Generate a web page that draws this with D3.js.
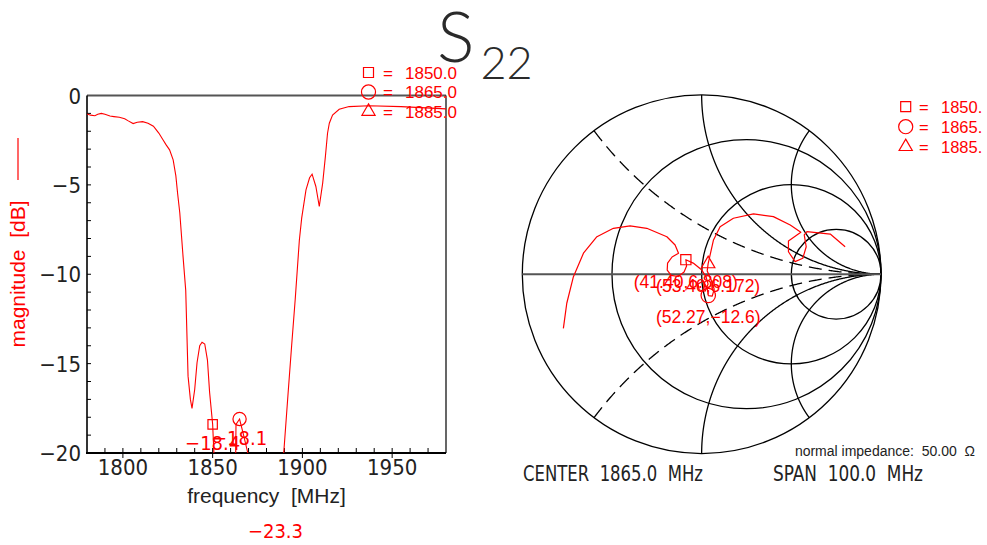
<!DOCTYPE html>
<html>
<head>
<meta charset="utf-8">
<script src="https://cdn.jsdelivr.net/npm/d3@7"></script>
<style>
  body { margin: 0; background: #fff; }
  svg text { white-space: pre; }
</style>
</head>
<body>
<svg id="chart" width="987" height="545"></svg>
<script>
// ---- S22 magnitude sweep ----
const magFreq = [1780, 1782, 1784.4, 1786, 1788, 1790, 1792.8, 1795, 1798, 1801,
  1803, 1805.7, 1808, 1811, 1814, 1817, 1820, 1822.4, 1824, 1826,
  1828, 1829.5, 1830.5, 1831.7, 1833.5, 1835, 1836.3, 1837.6, 1838.5, 1840,
  1841.3, 1842.8, 1844.1, 1845.6, 1847.1, 1848.3, 1850, 1850.7, 1852, 1855,
  1858, 1861, 1862.7, 1863, 1865, 1867, 1869.6, 1872, 1876, 1880,
  1883, 1885, 1887.5, 1889.6, 1892, 1894, 1896, 1898.3, 1899.6, 1902,
  1904, 1905.4, 1907.5, 1909.4, 1911.3, 1912.8, 1914, 1915, 1916.8, 1920.5,
  1926, 1937, 1955, 1980];
const magDb = [-1.03, -1.10, -1.13, -1.05, -1.00, -1.05, -1.15, -1.18, -1.22, -1.30,
  -1.42, -1.57, -1.50, -1.46, -1.55, -1.72, -2.10, -2.49, -2.75, -3.04,
  -3.6, -4.5, -5.5, -6.57, -9.0, -10.9, -15.7, -17.0, -17.5, -16.45,
  -14.95, -14.0, -13.8, -13.9, -14.8, -16.6, -18.4, -20.0, -23, -27,
  -26, -24, -22, -18.4, -18.1, -18.9, -20.0, -22, -27, -30,
  -26, -23.3, -21.5, -20.0, -16.7, -14.0, -11.4, -8.1, -6.86, -5.28,
  -4.6, -4.40, -5.09, -6.21, -4.9, -3.42, -2.11, -1.55, -1.09, -0.77,
  -0.62, -0.57, -0.62, -0.75];

// ---- markers ----
const markerShapes = ["square", "circle", "triangle"];
const markerFreqs = [1850, 1865, 1885];
const markerDb = [-18.4, -18.1, -23.3];
const markerR = [41.40, 52.27, 53.40];   // ohms
const markerX = [6.808, -12.6, 6.172];   // ohms
const legendLeftText = ["1850.0", "1865.0", "1885.0"];
const legendRightText = ["1850.", "1865.", "1885."];

// ---- reflection coefficient trace (re, im), 1815-1915 MHz ----
const gammaRe = [-0.771, -0.752, -0.715, -0.659, -0.584, -0.492, -0.399, -0.306, -0.194, -0.148,
  -0.129, -0.165, -0.190, -0.192, -0.170, -0.131, -0.098, -0.084, -0.088, -0.047,
  0.001, 0.025, 0.036, 0.020, -0.014, -0.020, 0.008, 0.031, 0.037, 0.059,
  0.070, 0.053, 0.031, 0.036, 0.047, 0.066, 0.103, 0.177, 0.289, 0.400,
  0.494, 0.553, 0.484, 0.484, 0.521, 0.564, 0.583, 0.572, 0.587, 0.717,
  0.800];
const gammaIm = [-0.302, -0.162, -0.014, 0.117, 0.209, 0.256, 0.269, 0.256, 0.209, 0.163,
  0.117, 0.096, 0.062, 0.023, -0.007, -0.013, 0.012, 0.046, 0.081, 0.062,
  0.023, -0.016, -0.055, -0.094, -0.088, -0.055, -0.038, -0.077, -0.119, -0.122,
  -0.083, -0.032, 0.018, 0.058, 0.107, 0.191, 0.265, 0.312, 0.336, 0.321,
  0.274, 0.234, 0.185, 0.125, 0.070, 0.089, 0.153, 0.219, 0.237, 0.224,
  0.153];

// ---- Smith grid ----
const resistanceCircles = [1 / 3, 1, 3];
const reactanceArcs = [0.5, 1, 2];
const dashedReactance = [0.5];

// ---- axis ticks ----
const freqTicks = [1800, 1850, 1900, 1950];
const dbTicks = [0, -5, -10, -15, -20];

const SANS = '"Liberation Sans", Arial, "DejaVu Sans", sans-serif';
const NARROW = '"Liberation Sans Narrow", "Arial Narrow", "DejaVu Sans Condensed", sans-serif';
const RED = "#ff0000";
const INK = "#222";

const svg = d3.select("#chart");

// ================= title =================
const title = svg.append("text")
  .attr("x", 437).attr("y", 62)
  .attr("fill", "#2a2a2a")
  .style("font-family", 'Lato, "Liberation Sans", sans-serif')
  .style("font-weight", 300);
title.append("tspan").attr("font-size", 70).text("S");
title.append("tspan").attr("font-size", 45).attr("dx", 6).attr("dy", 17).text("22");

// ================= magnitude panel =================
const x = d3.scaleLinear().domain([1780, 1980]).range([87, 446]);
const y = d3.scaleLinear().domain([-20, 0]).range([453, 95.5]);

svg.append("clipPath").attr("id", "plotClip")
  .append("rect")
  .attr("x", x.range()[0]).attr("y", y.range()[1])
  .attr("width", x.range()[1] - x.range()[0])
  .attr("height", y.range()[0] - y.range()[1]);

const left = svg.append("g");

// ticks (inward minor, major crossing the bottom axis)
left.append("g").selectAll("line")
  .data(d3.range(-19, 0, 1))
  .join("line")
  .attr("x1", x(1780)).attr("x2", x(1780) + 4)
  .attr("y1", d => y(d)).attr("y2", d => y(d))
  .attr("stroke", "#000").attr("stroke-width", 1);
left.append("g").selectAll("line")
  .data(d3.range(1790, 1980, 10))
  .join("line")
  .attr("x1", d => x(d)).attr("x2", d => x(d))
  .attr("y1", d => freqTicks.includes(d) ? y(-20) + 5 : y(-20)).attr("y2", y(-20) - 5)
  .attr("stroke", "#000").attr("stroke-width", 1);

// frame
left.append("line").attr("x1", x(1780)).attr("x2", x(1980)).attr("y1", y(0)).attr("y2", y(0))
  .attr("stroke", "#555").attr("stroke-width", 2);
left.append("line").attr("x1", x(1980)).attr("x2", x(1980)).attr("y1", y(0)).attr("y2", y(-20))
  .attr("stroke", "#000").attr("stroke-width", 1.2);
left.append("line").attr("x1", x(1780)).attr("x2", x(1780)).attr("y1", y(0)).attr("y2", y(-20))
  .attr("stroke", "#000").attr("stroke-width", 1.6);
left.append("line").attr("x1", x(1780) - 1).attr("x2", x(1980)).attr("y1", y(-20)).attr("y2", y(-20))
  .attr("stroke", "#000").attr("stroke-width", 2.2);

// tick labels
left.append("g").selectAll("text")
  .data(dbTicks)
  .join("text")
  .attr("x", x(1780) - 6).attr("y", d => y(d) + 8)
  .attr("text-anchor", "end")
  .attr("fill", INK)
  .style("font-family", NARROW).style("font-size", "22px")
  .text(d => d3.format("d")(d));
left.append("g").selectAll("text")
  .data(freqTicks)
  .join("text")
  .attr("x", d => x(d)).attr("y", 475)
  .attr("text-anchor", "middle")
  .attr("fill", INK)
  .style("font-family", NARROW).style("font-size", "22px")
  .text(d => d);

// axis titles
left.append("text")
  .attr("x", (x(1780) + x(1980)) / 2).attr("y", 503)
  .attr("text-anchor", "middle").attr("fill", INK)
  .style("font-family", SANS).style("font-size", "21px")
  .text("frequency  [MHz]");
left.append("text")
  .attr("transform", "translate(25,274) rotate(-90)")
  .attr("text-anchor", "middle").attr("fill", RED)
  .style("font-family", SANS).style("font-size", "21px")
  .text("magnitude  [dB]");
left.append("line")
  .attr("x1", 18).attr("x2", 18).attr("y1", 138).attr("y2", 180)
  .attr("stroke", RED).attr("stroke-width", 1.2);

// trace
const magLine = d3.line().x((d, i) => x(magFreq[i])).y(d => y(d));
left.append("path")
  .datum(magDb)
  .attr("clip-path", "url(#plotClip)")
  .attr("d", magLine)
  .attr("fill", "none").attr("stroke", RED).attr("stroke-width", 1.1);

// marker symbols
const symType = { square: d3.symbolSquare, circle: d3.symbolCircle, triangle: d3.symbolTriangle };
const symSize = { square: 80, circle: 125, triangle: 60 };
function marker(g, shape, cx, cy, scale) {
  g.append("path")
    .attr("transform", `translate(${cx},${cy})`)
    .attr("d", d3.symbol().type(symType[shape]).size(symSize[shape] * (scale || 1))())
    .attr("fill", "none").attr("stroke", RED).attr("stroke-width", 1.2);
}
const leftMarkers = left.append("g").attr("clip-path", "url(#plotClip)");
markerShapes.forEach((s, i) => marker(leftMarkers, s, x(markerFreqs[i]), y(markerDb[i]), 1.1));
left.append("g").selectAll("text")
  .data(markerDb)
  .join("text")
  .attr("x", (d, i) => x(markerFreqs[i])).attr("y", d => y(d) + 26)
  .attr("text-anchor", "middle").attr("fill", RED)
  .style("font-family", NARROW).style("font-size", "20px")
  .text(d => d3.format(".1f")(d));

// legend (magnitude panel)
const legL = svg.append("g");
markerShapes.forEach((s, i) => {
  const cy = 72.5 + i * 19.5;
  marker(legL, s, 368.5, cy, 1.25);
  legL.append("text").attr("x", 383).attr("y", cy + 6).attr("fill", RED)
    .style("font-family", SANS).style("font-size", "17px").text("=");
  legL.append("text").attr("x", 405).attr("y", cy + 6).attr("fill", RED)
    .style("font-family", SANS).style("font-size", "17px").text(legendLeftText[i]);
});

// ================= Smith chart =================
const gx = d3.scaleLinear().domain([-1, 1]).range([522.3, 881]);
const gy = d3.scaleLinear().domain([-1, 1]).range([453.5, 94.9]);
const unit = gx(1) - gx(0);
const smith = svg.append("g");

smith.append("circle")
  .attr("cx", gx(0)).attr("cy", gy(0)).attr("r", unit)
  .attr("fill", "none").attr("stroke", "#000").attr("stroke-width", 1.3);

smith.append("g").selectAll("circle")
  .data(resistanceCircles)
  .join("circle")
  .attr("cx", r => gx(r / (r + 1))).attr("cy", gy(0))
  .attr("r", r => gx(1 / (r + 1)) - gx(0))
  .attr("fill", "none").attr("stroke", "#000").attr("stroke-width", 1.3);

// constant-reactance arcs: sweep resistance from 0 to infinity
const sweep = d3.range(0, 600).map(i => Math.tan((i / 600) * Math.PI / 2));
function reactancePts(xv) {
  const pts = sweep.map(r => {
    const den = (r + 1) * (r + 1) + xv * xv;
    return [(r * r + xv * xv - 1) / den, (2 * xv) / den];
  });
  pts.push([1, 0]);
  return pts;
}
const gLine = d3.line().x(d => gx(d[0])).y(d => gy(d[1]));
reactanceArcs.forEach(xv => {
  [xv, -xv].forEach(s => {
    smith.append("path")
      .attr("d", gLine(reactancePts(s)))
      .attr("fill", "none").attr("stroke", "#000").attr("stroke-width", 1.3)
      .attr("stroke-dasharray", dashedReactance.includes(xv) ? "13,7" : null);
  });
});

// real axis
smith.append("line")
  .attr("x1", gx(-1)).attr("x2", gx(1)).attr("y1", gy(0)).attr("y2", gy(0))
  .attr("stroke", "#555").attr("stroke-width", 2);

// trace
smith.append("path")
  .attr("d", gLine(gammaRe.map((v, i) => [v, gammaIm[i]])))
  .attr("fill", "none").attr("stroke", RED).attr("stroke-width", 1.2)
  .attr("stroke-linejoin", "round");

// markers at the stated impedances
const z0 = 50;
const markerGamma = markerR.map((rv, i) => {
  const a = rv / z0, b = markerX[i] / z0;
  const den = (a + 1) * (a + 1) + b * b;
  return [(a * a + b * b - 1) / den, (2 * b) / den];
});
markerShapes.forEach((s, i) => marker(smith, s, gx(markerGamma[i][0]), gy(markerGamma[i][1]), 1.3));

const fmt5 = v => {
  let s = v.toPrecision(4);
  if (s.length > 5) s = v.toPrecision(3);
  return s.replace("-", "\u2212");
};
smith.append("g").selectAll("text")
  .data(markerGamma)
  .join("text")
  .attr("x", d => gx(d[0])).attr("y", d => gy(d[1]) + 28)
  .attr("text-anchor", "middle").attr("fill", RED)
  .style("font-family", SANS).style("font-size", "17.5px")
  .text((d, i) => `(${fmt5(markerR[i])},${fmt5(markerX[i])})`);

// legend (Smith chart)
const legR = svg.append("g");
markerShapes.forEach((s, i) => {
  const cy = 106.7 + i * 20;
  marker(legR, s, 905.7, cy, 1.25);
  legR.append("text").attr("x", 919).attr("y", cy + 6).attr("fill", RED)
    .style("font-family", SANS).style("font-size", "16.5px").text("=");
  legR.append("text").attr("x", 941).attr("y", cy + 6).attr("fill", RED)
    .style("font-family", SANS).style("font-size", "16.5px").text(legendRightText[i]);
});

// footer
svg.append("text").attr("x", 975).attr("y", 456).attr("text-anchor", "end").attr("fill", INK)
  .style("font-family", SANS).style("font-size", "14px").text("normal impedance:  50.00  \u03A9");
svg.append("text").attr("x", 523).attr("y", 481).attr("fill", INK)
  .attr("textLength", 180).attr("lengthAdjust", "spacingAndGlyphs")
  .style("font-family", NARROW).style("font-size", "21px").text("CENTER  1865.0  MHz");
svg.append("text").attr("x", 773).attr("y", 481).attr("fill", INK)
  .attr("textLength", 150).attr("lengthAdjust", "spacingAndGlyphs")
  .style("font-family", NARROW).style("font-size", "21px").text("SPAN  100.0  MHz");
</script>
</body>
</html>
